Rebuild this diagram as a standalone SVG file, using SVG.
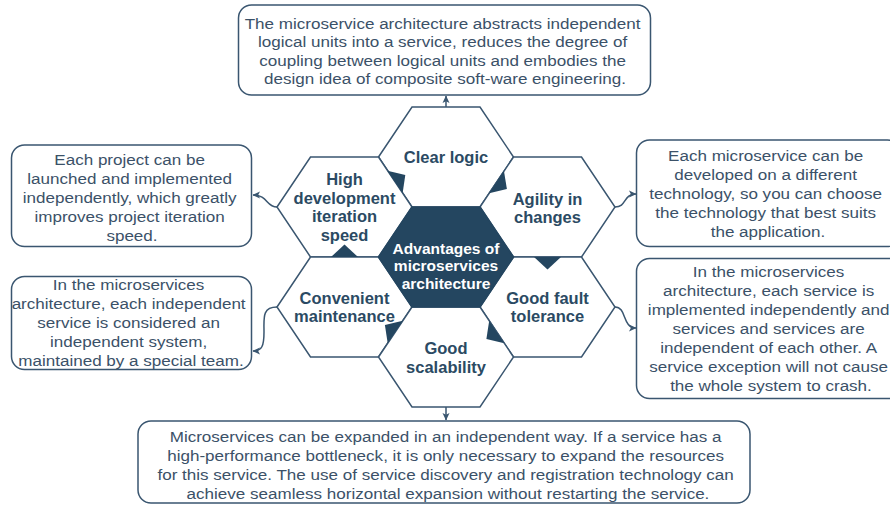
<svg xmlns="http://www.w3.org/2000/svg" xmlns:xlink="http://www.w3.org/1999/xlink" width="890" height="506" viewBox="0 0 890 506">
<style>
.box{fill:#ffffff;stroke:#3a5670;stroke-width:1.5}
.hex{fill:#ffffff;stroke:#3a5670;stroke-width:1.5}
.hexc{fill:#244660;stroke:#244660;stroke-width:1.5}
.tri{fill:#244660}
.lbl{font-family:"Liberation Sans",Arial,sans-serif;font-weight:bold;font-size:16.5px;fill:#2b4a63;text-anchor:middle}
.lblc{font-family:"Liberation Sans",Arial,sans-serif;font-weight:bold;font-size:15.5px;fill:#ffffff;text-anchor:middle}
.txt{font-family:"Liberation Sans",Arial,sans-serif;font-size:15.5px;fill:#3b5168;text-anchor:middle}
.con{fill:none;stroke:#3a5670;stroke-width:1.5;marker-end:url(#arr)}
</style>
<defs>
<polygon id="hexshape" points="-67.5,0 -34,-50 34,-50 67.5,0 34,50 -34,50"/>
<marker id="arr" markerUnits="userSpaceOnUse" markerWidth="9" markerHeight="9" refX="7" refY="4" orient="auto">
<path d="M0,0.5 L7.5,4 L0,7.5 L1.8,4 z" fill="#3a5670"/>
</marker>
</defs>

<g id="connectors">
<path class="con" d="M446,107 L446,96"/>
<path class="con" d="M446,407 L446,420"/>
<path class="con" d="M277,207 C266,207 268,195 253,195"/>
<path class="con" d="M615,207 C627,207 623,194 636,194"/>
<path class="con" d="M615,307 C627,307 622,328 636,328"/>
<path class="con" d="M277,307 C262,307 264,318 264,332 C264,346 262,351 253,351"/>
</g>

<g id="box-top">
<rect class="box" x="238.5" y="5" width="412" height="90" rx="13"/>
<text class="txt" transform="matrix(1.1,0,0,1,-44.5,0)">
<tspan x="445" y="29">The microservice architecture abstracts independent</tspan>
<tspan x="445" y="47.5">logical units into a service, reduces the degree of</tspan>
<tspan x="445" y="66">coupling between logical units and embodies the</tspan>
<tspan x="445" y="84.5">design idea of composite soft-ware engineering.</tspan>
</text>
</g>

<g id="box-left-upper">
<rect class="box" x="11.5" y="145" width="240" height="101.5" rx="13"/>
<text class="txt" transform="matrix(1.1,0,0,1,-13.2,0)">
<tspan x="132" y="165.5">Each project can be</tspan>
<tspan x="132" y="184.5">launched and implemented</tspan>
<tspan x="132" y="203">independently, which greatly</tspan>
<tspan x="132" y="222">improves project iteration</tspan>
<tspan x="132" y="241">speed.</tspan>
</text>
</g>

<g id="box-left-lower">
<rect class="box" x="11.5" y="276.5" width="240" height="93" rx="13"/>
<text class="txt" transform="matrix(1.1,0,0,1,-13.1,0)">
<tspan x="131" y="290.5">In the microservices</tspan>
<tspan x="131" y="309.5">architecture, each independent</tspan>
<tspan x="131" y="328">service is considered an</tspan>
<tspan x="131" y="347">independent system,</tspan>
<tspan x="131" y="366">maintained by a special team.</tspan>
</text>
</g>

<g id="box-right-upper">
<rect class="box" x="636.5" y="140" width="264" height="106.5" rx="13"/>
<text class="txt" transform="matrix(1.1,0,0,1,-76.8,0)">
<tspan x="768" y="161">Each microservice can be</tspan>
<tspan x="768" y="180.5">developed on a different</tspan>
<tspan x="768" y="199.5">technology, so you can choose</tspan>
<tspan x="768" y="218.5">the technology that best suits</tspan>
<tspan x="768" y="237.5">the application.</tspan>
</text>
</g>

<g id="box-right-lower">
<rect class="box" x="636.5" y="258.5" width="270" height="140" rx="13"/>
<text class="txt" transform="matrix(1.1,0,0,1,-77.1,0)">
<tspan x="771" y="277.5">In the microservices</tspan>
<tspan x="771" y="296.5">architecture, each service is</tspan>
<tspan x="771" y="315.5">implemented independently and</tspan>
<tspan x="771" y="334.5">services and services are</tspan>
<tspan x="771" y="353">independent of each other. A</tspan>
<tspan x="771" y="372">service exception will not cause</tspan>
<tspan x="771" y="391">the whole system to crash.</tspan>
</text>
</g>

<g id="box-bottom">
<rect class="box" x="138" y="421" width="612" height="82" rx="13"/>
<text class="txt" transform="matrix(1.1,0,0,1,-44.8,0)">
<tspan x="448" y="442.5">Microservices can be expanded in an independent way. If a service has a</tspan>
<tspan x="448" y="461.5">high-performance bottleneck, it is only necessary to expand the resources</tspan>
<tspan x="448" y="480.5">for this service. The use of service discovery and registration technology can</tspan>
<tspan x="448" y="499.5">achieve seamless horizontal expansion without restarting the service.</tspan>
</text>
</g>

<g id="hex-clear-logic">
<use xlink:href="#hexshape" class="hex" transform="translate(446,157)"/>
<text class="lbl" x="446" y="163">Clear logic</text>
</g>

<g id="hex-high-dev">
<use xlink:href="#hexshape" class="hex" transform="translate(344.5,207)"/>
<text class="lbl"><tspan x="344.5" y="185">High</tspan><tspan x="344.5" y="203.5">development</tspan><tspan x="344.5" y="222">iteration</tspan><tspan x="344.5" y="240.5">speed</tspan></text>
</g>

<g id="hex-agility">
<use xlink:href="#hexshape" class="hex" transform="translate(547.5,207)"/>
<text class="lbl"><tspan x="547.5" y="205">Agility in</tspan><tspan x="547.5" y="223">changes</tspan></text>
</g>

<g id="hex-convenient">
<use xlink:href="#hexshape" class="hex" transform="translate(344.5,307)"/>
<text class="lbl"><tspan x="344.5" y="304">Convenient</tspan><tspan x="344.5" y="322">maintenance</tspan></text>
</g>

<g id="hex-fault">
<use xlink:href="#hexshape" class="hex" transform="translate(547.5,307)"/>
<text class="lbl"><tspan x="547.5" y="304">Good fault</tspan><tspan x="547.5" y="322">tolerance</tspan></text>
</g>

<g id="hex-scalability">
<use xlink:href="#hexshape" class="hex" transform="translate(446,357)"/>
<text class="lbl"><tspan x="446" y="354">Good</tspan><tspan x="446" y="372.5">scalability</tspan></text>
</g>

<g id="hex-center">
<use xlink:href="#hexshape" class="hexc" transform="translate(446,257)"/>
<text class="lblc"><tspan x="446" y="253.5">Advantages of</tspan><tspan x="446" y="271">microservices</tspan><tspan x="446" y="288.5">architecture</tspan></text>
</g>

<g id="flow-markers">
<polygon class="tri" points="387.4,170.8 402.6,193.2 405.3,175"/>
<polygon class="tri" points="503.9,170.7 489.1,193.3 506.9,188.9"/>
<polygon class="tri" points="534,257 561,257 547.5,269.5"/>
<polygon class="tri" points="489.2,320.8 504.3,343.2 486.4,339"/>
<polygon class="tri" points="402.8,320.8 387.7,343.2 384.9,325"/>
<polygon class="tri" points="331,257 358,257 344.5,244.5"/>
</g>
</svg>
